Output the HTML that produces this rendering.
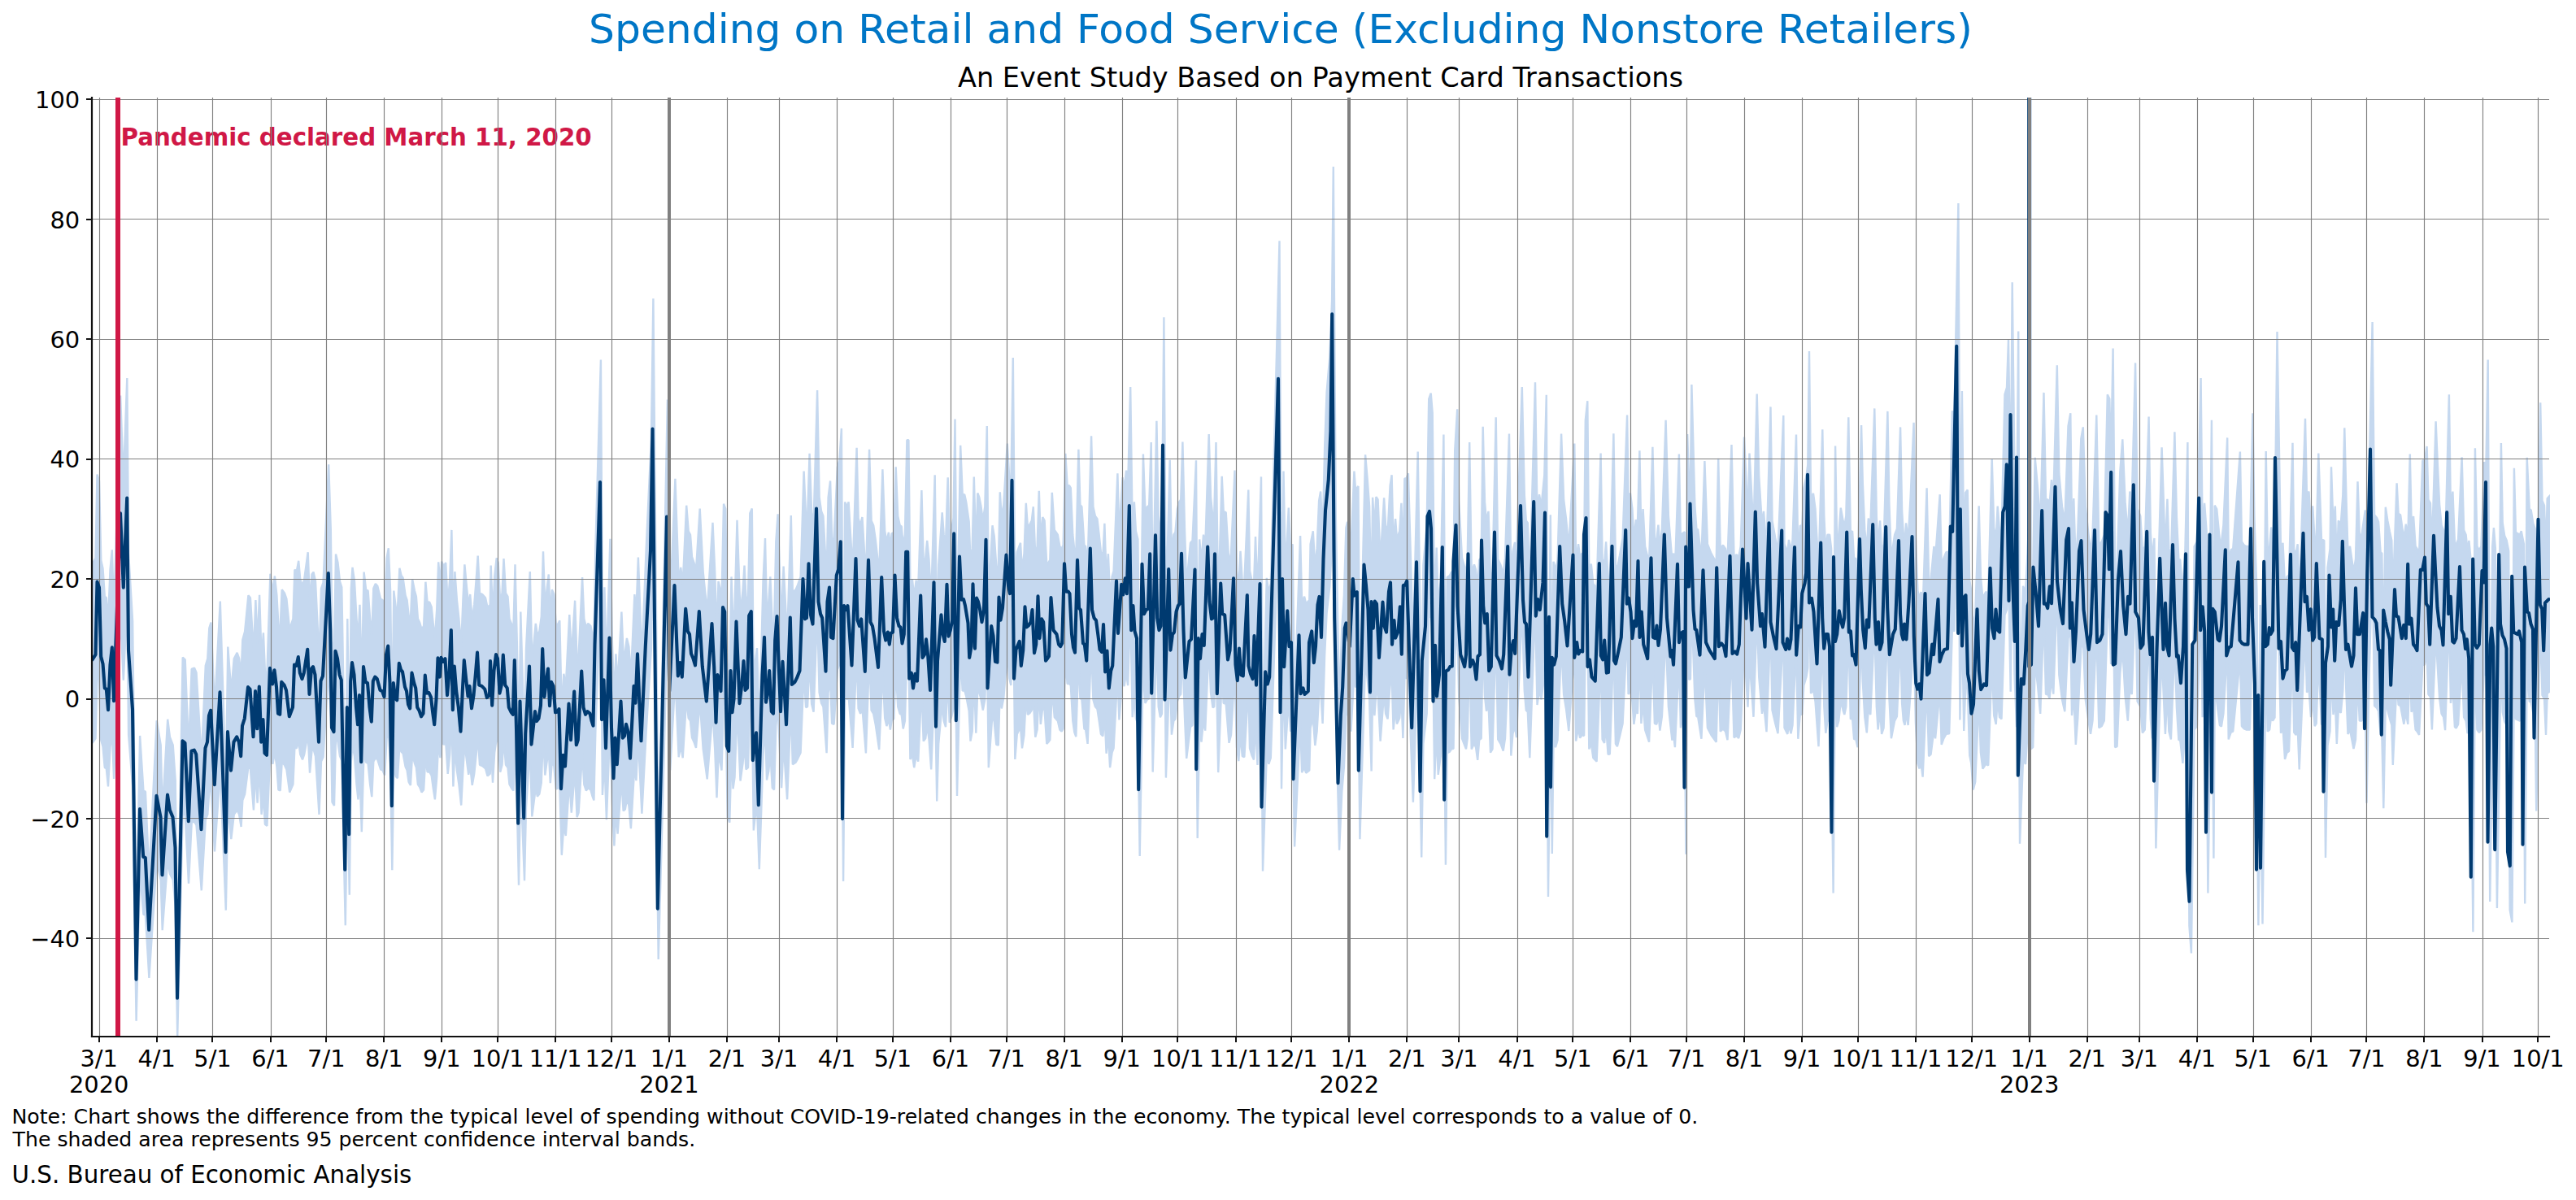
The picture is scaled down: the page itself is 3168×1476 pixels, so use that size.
<!DOCTYPE html>
<html lang="en"><head><meta charset="utf-8"><title>Spending on Retail and Food Service</title>
<style>html,body{margin:0;padding:0;background:#fff}svg{display:block}text{font-family:"DejaVu Sans","Liberation Sans",sans-serif;fill:#000}</style></head><body>
<svg width="3168" height="1476" viewBox="0 0 3168 1476">
<rect width="3168" height="1476" fill="#fff"/>
<defs><clipPath id="c"><rect x="113.0" y="120.0" width="3023.0" height="1155.0"/></clipPath></defs>
<g clip-path="url(#c)">
<polygon points="113.6,693.6 117.5,686.4 119.5,583.5 122.0,591.5 124.3,689.3 126.5,699.3 128.8,733.8 130.8,735.3 133.0,764.6 135.5,700.8 137.8,676.3 140.1,751.9 148.1,486.6 151.8,591.5 156.3,465.1 158.1,680.6 163.1,764.0 167.6,1145.8 172.1,904.9 176.4,972.4 178.9,973.9 183.4,1075.9 192.7,886.2 197.7,916.4 199.7,998.3 206.2,884.7 208.9,906.3 212.7,916.4 215.7,959.5 218.2,1172.2 224.7,808.6 227.7,811.4 232.0,922.1 235.7,822.9 239.0,821.5 241.5,827.3 247.8,933.6 252.8,818.6 255.3,810.0 257.3,772.6 259.5,765.5 264.0,870.4 270.8,739.6 277.8,965.8 280.3,795.6 284.3,850.3 287.8,810.0 291.6,802.8 294.1,810.0 296.6,830.1 298.3,787.0 301.1,776.9 305.4,732.4 307.9,735.3 311.9,802.8 314.4,738.1 316.6,791.3 319.1,731.8 321.6,810.0 323.9,778.4 325.9,825.8 328.4,828.7 332.4,705.7 335.4,728.1 337.9,708.5 340.4,732.4 342.4,769.8 344.7,771.2 346.7,725.2 349.9,729.5 352.4,736.7 356.2,774.1 360.4,761.1 362.4,700.8 364.9,702.2 367.2,689.8 369.2,712.3 372.0,720.9 374.2,712.3 378.7,679.2 381.0,742.5 383.5,706.5 385.5,703.6 388.0,715.1 392.5,810.0 395.0,723.8 397.5,716.6 404.2,571.4 406.8,651.9 408.5,789.9 411.0,795.6 413.0,681.5 415.5,692.1 418.0,715.1 420.3,722.3 424.8,990.5 427.3,761.1 429.8,940.8 431.8,723.8 433.5,697.9 436.0,715.1 438.5,761.1 440.5,785.6 442.5,743.9 444.8,838.2 447.6,703.6 450.1,725.2 452.6,726.6 455.1,761.1 457.3,781.3 459.3,723.8 461.8,718.0 464.3,720.9 468.1,736.7 470.6,738.1 473.1,746.2 475.6,686.4 477.8,674.3 480.1,726.6 482.3,900.6 484.3,726.6 486.9,748.2 488.9,751.1 491.4,698.8 493.6,708.0 495.6,710.8 498.6,732.4 500.6,738.1 502.6,756.8 504.9,762.6 507.1,712.3 509.9,726.6 511.9,733.8 513.9,761.1 516.1,765.5 518.6,774.1 521.1,769.8 523.4,715.7 525.6,741.0 528.1,740.4 530.7,746.8 532.7,766.9 534.9,785.6 537.2,749.6 539.2,691.3 541.4,718.0 543.2,690.7 545.7,696.5 548.2,692.1 550.7,743.9 553.2,712.3 555.4,651.9 557.4,764.6 559.4,703.1 561.9,738.1 564.4,761.1 567.2,795.1 569.4,738.1 571.4,694.4 573.7,719.5 576.2,745.3 578.2,731.0 580.7,762.6 583.2,743.9 585.7,712.3 587.7,683.5 590.0,729.5 593.2,731.0 597.0,735.3 599.5,747.3 602.7,743.9 603.7,695.6 606.0,758.3 608.2,709.4 610.7,686.4 612.7,692.1 615.2,741.0 617.5,729.5 619.5,687.0 622.0,729.5 624.5,733.8 626.5,761.1 629.5,768.3 631.5,771.2 633.5,694.4 635.8,789.9 638.0,925.0 640.3,752.5 645.0,917.8 647.0,798.5 651.8,703.1 654.3,813.5 658.8,766.9 660.8,780.7 663.3,776.9 665.8,758.3 668.0,678.3 670.3,746.2 672.8,722.3 674.8,706.5 676.8,758.8 678.8,725.2 681.3,731.0 683.8,768.3 686.3,767.5 688.3,763.4 690.8,876.1 693.3,828.7 695.8,844.5 700.3,756.0 702.8,807.1 707.1,738.7 709.6,814.3 711.6,807.1 716.1,710.0 718.3,761.1 720.8,771.2 723.3,766.9 726.4,769.8 728.4,779.8 730.4,787.0 732.4,672.0 738.9,442.6 740.9,778.4 743.4,722.3 745.9,818.6 750.4,662.8 752.9,789.9 755.4,861.2 757.4,804.3 759.6,841.6 764.4,752.5 766.6,804.3 768.9,801.4 770.9,785.0 773.4,795.6 775.9,833.0 780.4,731.0 782.4,754.8 784.9,685.5 787.2,749.6 789.4,808.6 794.7,674.9 800.9,539.8 803.4,367.3 809.7,1045.7 814.7,807.1 820.9,491.5 824.2,738.1 830.4,588.7 834.7,716.6 837.2,697.9 839.7,718.0 844.2,621.7 846.7,653.3 849.0,657.7 851.0,685.0 853.5,692.1 856.0,701.6 860.7,625.5 864.7,703.6 869.7,752.5 876.5,642.7 879.2,703.6 881.5,782.7 883.5,715.1 885.5,723.8 887.5,738.1 890.0,619.7 892.3,626.0 894.8,815.8 897.3,822.9 899.5,709.4 901.5,768.3 903.5,749.6 906.5,639.8 910.5,755.4 913.5,726.6 915.5,695.6 917.5,736.7 920.0,733.8 922.3,631.2 924.8,625.5 926.8,835.9 928.5,815.8 931.0,797.1 933.8,899.1 938.5,715.1 941.0,662.0 943.0,754.0 945.3,739.6 947.3,709.4 949.8,766.9 952.1,769.8 954.3,666.3 956.6,632.4 959.1,709.4 961.1,766.9 963.6,696.5 965.6,735.3 968.1,785.6 972.8,634.1 974.8,728.7 978.6,725.2 981.1,719.5 984.6,709.4 988.6,579.5 991.1,636.1 993.1,634.7 995.6,557.9 998.1,630.3 1000.6,643.3 1005.1,480.0 1007.6,611.7 1010.1,628.9 1012.4,634.7 1016.6,710.0 1018.6,611.7 1021.1,591.5 1023.1,662.0 1025.6,663.4 1029.9,574.3 1032.4,565.7 1034.9,526.9 1037.1,918.7 1039.1,617.4 1041.6,623.2 1043.6,617.4 1048.6,701.6 1053.6,550.7 1055.6,637.5 1058.1,646.2 1060.4,636.1 1064.9,710.3 1069.1,552.7 1071.6,640.4 1074.2,646.2 1076.7,663.4 1081.2,704.5 1085.4,577.2 1088.2,653.3 1090.4,666.3 1092.9,654.8 1094.9,672.0 1096.7,656.2 1099.2,654.8 1101.7,574.3 1104.2,634.7 1106.7,646.2 1108.7,647.6 1110.7,670.6 1112.9,657.7 1115.4,541.2 1117.4,541.2 1119.4,720.3 1121.9,712.3 1124.2,733.8 1126.7,713.7 1129.2,723.8 1133.4,603.0 1135.7,690.7 1138.2,686.4 1140.2,664.8 1142.5,687.8 1145.2,736.7 1149.7,584.3 1152.2,788.4 1154.2,695.0 1158.7,630.3 1160.7,657.7 1163.0,667.7 1165.7,587.2 1167.7,660.5 1170.0,651.9 1172.5,637.5 1174.5,515.4 1177.0,779.8 1181.2,547.8 1183.7,608.8 1186.2,608.2 1188.2,617.4 1191.7,641.8 1193.5,690.7 1195.7,674.9 1197.8,586.6 1200.3,677.8 1202.3,606.5 1204.3,611.7 1206.3,621.7 1208.8,640.4 1211.3,623.2 1213.8,524.0 1215.8,733.8 1220.5,646.2 1222.8,660.0 1225.3,696.5 1227.8,697.3 1229.8,605.3 1231.8,637.5 1234.3,620.3 1238.8,545.5 1241.3,588.7 1243.3,600.2 1245.8,440.0 1248.3,720.3 1250.8,679.2 1255.0,667.7 1257.0,702.2 1259.5,680.6 1261.8,618.8 1263.8,647.6 1266.3,645.3 1268.8,640.4 1270.8,623.2 1273.3,684.1 1275.6,672.0 1277.8,603.9 1279.8,663.4 1282.3,636.1 1284.6,640.4 1287.3,695.0 1289.3,692.1 1291.3,688.7 1293.8,605.9 1296.8,651.9 1298.8,654.8 1300.8,657.7 1303.3,672.0 1305.6,674.9 1307.6,670.6 1310.3,557.9 1312.6,597.3 1315.1,597.3 1316.8,600.2 1319.3,657.7 1321.3,676.3 1323.3,683.5 1326.4,552.7 1328.4,620.9 1330.4,623.2 1333.4,670.6 1335.1,672.0 1337.6,695.0 1342.1,536.3 1344.4,623.2 1346.9,634.7 1349.4,638.1 1351.9,660.0 1353.9,679.2 1356.4,682.7 1358.4,643.9 1360.6,710.8 1362.9,681.2 1365.1,733.8 1367.6,709.4 1369.6,702.2 1374.4,582.3 1376.4,656.2 1380.6,587.2 1382.6,601.6 1385.1,578.6 1387.1,600.2 1390.2,476.0 1392.7,651.9 1394.9,617.4 1396.9,653.3 1399.4,663.4 1401.7,877.6 1405.9,558.5 1408.4,628.9 1410.9,623.2 1413.2,621.7 1415.7,544.1 1417.7,741.0 1422.4,517.7 1424.7,634.7 1426.9,651.9 1428.9,646.2 1431.4,390.3 1433.9,750.2 1438.7,565.7 1440.9,680.1 1443.4,657.7 1445.4,654.8 1447.9,626.0 1450.2,617.4 1452.2,614.5 1454.4,543.5 1457.0,651.9 1459.2,718.9 1464.0,667.7 1466.5,664.8 1471.0,566.2 1472.7,848.8 1475.2,663.4 1477.5,692.1 1480.0,657.7 1482.2,673.5 1486.7,534.0 1489.0,611.7 1491.5,636.1 1493.2,634.7 1495.5,544.1 1498.2,741.6 1502.7,585.8 1504.7,628.9 1507.7,630.3 1511.5,693.6 1514.0,680.6 1518.5,578.6 1521.0,700.8 1523.3,723.2 1525.5,677.8 1527.8,715.1 1530.3,716.6 1535.3,602.5 1537.0,702.2 1539.5,713.7 1542.0,720.9 1544.0,660.0 1546.5,729.5 1551.0,586.4 1553.0,902.0 1557.8,710.8 1560.3,728.1 1562.8,718.0 1573.5,296.3 1576.0,768.3 1578.5,579.5 1580.8,703.6 1584.8,624.6 1587.1,674.9 1589.6,669.2 1592.1,862.3 1599.1,659.1 1601.1,741.6 1604.1,733.8 1606.1,742.5 1610.3,738.1 1611.6,669.2 1614.8,653.3 1617.3,697.9 1619.6,674.9 1622.1,616.0 1624.1,604.5 1626.6,662.0 1629.1,551.3 1631.6,482.3 1635.3,439.2 1638.1,370.2 1639.8,204.9 1642.8,634.7 1647.1,868.1 1650.3,772.6 1652.9,732.4 1655.4,649.0 1657.1,641.8 1661.4,674.9 1665.4,579.5 1667.1,603.0 1670.4,597.9 1672.4,850.3 1679.1,559.3 1681.6,588.7 1684.1,623.2 1686.6,739.6 1688.1,611.7 1690.4,649.0 1692.4,611.1 1694.6,614.5 1697.6,690.7 1702.1,612.2 1704.1,646.2 1706.6,654.8 1709.6,597.3 1711.6,584.3 1713.6,672.0 1716.1,638.1 1717.9,662.8 1721.2,653.3 1723.4,618.8 1725.4,685.8 1727.4,588.7 1729.7,588.1 1731.9,582.3 1737.9,789.9 1743.7,555.6 1748.2,879.6 1750.4,695.0 1754.7,646.2 1757.2,490.9 1759.7,483.7 1761.7,508.2 1764.2,752.5 1766.7,673.5 1768.7,745.3 1771.7,715.1 1775.4,534.6 1777.9,891.9 1779.7,710.0 1782.9,708.0 1785.0,703.6 1787.5,703.1 1789.2,554.2 1792.2,503.3 1794.2,617.4 1798.0,686.4 1800.5,695.0 1803.0,703.6 1804.7,686.4 1807.2,544.1 1809.7,703.6 1813.0,694.4 1815.0,700.8 1817.2,721.5 1819.2,688.7 1821.7,686.4 1823.7,524.8 1826.0,617.4 1828.0,641.8 1830.5,628.9 1833.0,709.4 1835.5,703.6 1839.7,513.3 1842.2,687.8 1845.5,695.0 1848.7,706.5 1851.0,686.4 1856.0,533.5 1858.3,714.6 1860.5,678.3 1863.0,666.9 1865.0,685.0 1871.8,476.0 1874.8,608.8 1876.8,640.4 1878.8,643.3 1881.3,718.0 1888.0,470.2 1890.5,631.8 1893.0,608.2 1895.5,623.2 1899.3,584.3 1901.8,485.8 1904.0,943.7 1906.8,633.2 1908.8,873.8 1910.5,690.7 1913.0,700.8 1915.5,689.3 1920.1,533.5 1923.1,614.5 1926.1,639.0 1929.3,674.0 1936.3,545.5 1938.1,690.7 1941.1,669.2 1943.1,685.5 1945.6,680.6 1948.1,682.1 1949.8,516.8 1952.3,493.2 1954.3,703.6 1956.8,693.6 1959.3,718.0 1963.6,723.8 1968.6,557.6 1970.6,687.8 1973.1,693.6 1975.1,666.3 1977.6,712.3 1979.8,711.7 1984.4,533.2 1986.9,695.0 1988.9,699.3 1991.9,683.5 1995.6,662.0 2001.1,510.5 2002.6,614.5 2004.9,606.5 2007.4,626.0 2009.4,663.4 2011.9,639.0 2013.9,646.2 2016.4,554.2 2018.4,662.0 2020.6,626.0 2023.1,672.0 2028.1,692.1 2032.4,549.9 2034.9,662.0 2037.4,663.4 2039.4,645.6 2041.4,673.5 2043.9,650.5 2048.6,516.8 2051.9,634.7 2056.4,689.3 2058.2,680.6 2059.9,700.8 2064.9,558.5 2066.9,669.2 2068.9,656.2 2071.9,654.2 2073.4,874.7 2075.2,534.0 2076.9,590.1 2078.9,590.1 2080.4,473.1 2084.4,623.2 2086.4,650.5 2088.2,651.3 2092.4,687.0 2096.4,567.1 2099.9,669.2 2104.4,680.6 2110.7,692.1 2113.2,563.7 2115.7,674.9 2119.0,670.6 2122.0,674.9 2124.5,688.7 2129.5,547.0 2132.5,685.0 2135.7,682.1 2138.2,685.8 2140.7,672.0 2145.0,537.5 2149.5,635.2 2151.5,557.6 2156.5,651.3 2160.7,484.6 2163.2,585.8 2167.0,646.2 2169.0,628.9 2172.5,675.5 2177.5,500.4 2179.5,640.4 2183.3,662.0 2186.5,678.3 2193.3,511.0 2194.5,669.2 2198.3,679.2 2200.0,664.0 2202.5,678.3 2204.5,664.8 2209.0,534.6 2211.3,687.0 2213.8,646.2 2216.3,647.6 2218.3,600.2 2221.5,585.8 2223.3,571.4 2225.0,432.0 2227.0,613.1 2230.0,606.8 2232.5,626.0 2236.5,699.3 2241.3,528.3 2243.3,634.7 2245.3,677.8 2247.5,657.7 2250.1,657.7 2252.1,674.9 2254.6,937.9 2257.1,548.4 2259.1,667.7 2261.3,657.7 2263.8,624.6 2266.6,640.4 2268.3,647.6 2270.3,634.7 2273.3,513.3 2275.8,654.8 2278.1,653.3 2280.1,687.8 2282.1,686.4 2284.6,700.8 2289.1,523.1 2290.8,594.4 2293.3,651.9 2295.8,677.2 2297.8,637.5 2300.3,647.6 2305.3,502.4 2307.8,634.7 2309.6,672.0 2312.1,640.4 2314.1,679.2 2316.6,669.2 2321.4,505.9 2323.4,620.3 2325.9,686.4 2330.1,657.7 2332.9,650.5 2337.1,525.4 2339.1,628.9 2340.9,657.7 2342.6,664.8 2344.1,643.3 2346.6,664.8 2349.6,611.7 2353.6,519.7 2355.9,660.5 2358.4,726.6 2360.4,735.3 2362.6,728.1 2364.6,749.1 2369.6,600.2 2372.1,715.1 2374.6,712.3 2378.4,672.0 2380.1,686.4 2382.2,657.7 2385.7,608.2 2387.7,696.5 2390.2,687.0 2393.4,679.2 2397.2,678.3 2400.9,505.3 2403.4,512.5 2408.4,250.0 2410.4,656.2 2412.9,480.9 2415.2,674.0 2417.2,605.9 2419.7,602.5 2422.2,713.7 2424.2,726.6 2426.7,769.8 2429.2,756.8 2433.7,622.3 2435.9,709.4 2438.4,735.8 2442.2,728.1 2445.2,730.1 2449.7,564.2 2452.2,649.0 2454.7,663.4 2456.7,622.6 2459.0,651.9 2461.5,654.8 2465.5,485.2 2468.0,476.6 2470.0,417.6 2472.7,610.2 2474.7,347.2 2477.5,582.9 2480.0,667.7 2482.2,407.6 2484.0,857.4 2488.0,720.9 2491.0,728.1 2493.5,680.6 2496.0,617.4 2497.5,611.7 2497.5,-2975.9 2497.6,703.6 2500.2,700.8 2502.7,562.8 2506.0,600.2 2509.2,646.2 2513.5,482.9 2516.0,614.5 2518.5,614.5 2520.5,620.9 2523.0,590.1 2525.3,614.0 2529.8,449.2 2532.3,582.9 2536.0,623.2 2539.3,642.7 2543.5,524.0 2546.3,508.2 2548.0,649.0 2550.3,613.1 2552.8,696.5 2555.3,653.3 2559.3,539.8 2561.8,525.4 2564.8,623.2 2568.5,657.7 2571.0,679.2 2573.5,657.7 2578.3,510.5 2581.3,669.2 2584.8,666.3 2587.8,657.7 2591.8,485.2 2594.3,490.4 2596.1,565.7 2598.6,428.5 2601.1,700.8 2603.6,699.3 2607.3,580.0 2610.3,540.4 2613.6,617.4 2616.8,657.7 2619.3,604.5 2621.8,614.5 2626.1,446.4 2628.6,626.0 2632.3,634.7 2634.8,677.2 2637.8,672.0 2642.6,512.5 2644.8,654.8 2646.8,686.4 2649.4,662.0 2651.4,865.2 2654.9,680.6 2658.6,550.4 2662.9,679.2 2665.4,613.7 2667.4,674.9 2669.9,687.8 2674.4,531.2 2676.9,636.1 2679.4,689.3 2681.1,687.8 2684.4,726.6 2687.4,674.9 2690.4,544.1 2692.4,991.1 2694.9,1035.7 2698.6,672.0 2701.9,666.3 2706.6,465.1 2708.6,651.9 2711.1,618.8 2713.6,653.3 2715.4,937.9 2719.9,516.8 2722.4,881.3 2723.7,621.7 2726.2,626.0 2729.9,664.8 2731.9,666.9 2734.4,646.2 2739.2,538.4 2740.7,687.8 2743.7,676.3 2746.2,674.9 2750.4,617.4 2754.9,555.6 2756.9,666.3 2759.9,670.6 2762.4,672.0 2766.9,672.0 2770.4,508.2 2772.4,634.7 2775.4,726.6 2777.4,990.5 2779.7,743.9 2782.5,988.2 2786.7,555.0 2788.7,674.9 2791.2,672.0 2793.2,648.5 2795.0,657.7 2797.5,652.5 2800.5,408.1 2805.0,677.8 2807.5,667.7 2810.0,720.3 2812.5,709.4 2815.0,707.1 2819.5,544.7 2821.2,676.3 2823.7,680.6 2825.7,669.2 2827.7,736.7 2830.5,651.9 2835.0,514.8 2837.0,611.7 2839.5,604.5 2842.0,651.9 2844.2,622.3 2846.7,666.3 2848.7,662.0 2851.3,557.6 2855.0,663.4 2858.3,664.8 2860.0,880.4 2862.5,697.9 2865.5,674.9 2867.0,574.3 2869.5,647.6 2871.8,622.6 2873.8,695.0 2875.8,640.4 2878.8,644.7 2881.3,608.8 2883.3,526.3 2885.5,614.5 2887.5,679.2 2890.0,672.0 2892.5,689.3 2894.5,703.1 2897.0,687.8 2899.5,592.4 2901.8,657.7 2904.5,657.7 2908.8,627.5 2910.5,791.3 2913.8,574.3 2917.6,396.1 2920.1,633.2 2923.1,637.0 2925.1,641.8 2927.6,679.2 2929.3,680.6 2931.3,799.9 2933.8,623.7 2936.3,640.4 2938.8,653.3 2941.3,664.8 2942.8,729.5 2947.6,594.4 2949.6,631.8 2952.1,633.2 2956.3,663.4 2958.8,644.7 2961.3,663.4 2963.8,558.5 2965.6,643.3 2968.1,635.2 2970.6,672.0 2972.6,674.9 2975.1,680.6 2979.3,566.5 2981.8,566.5 2984.6,549.0 2986.4,614.5 2988.9,618.8 2990.9,672.0 2995.6,518.2 2997.6,565.7 3000.1,620.3 3002.6,646.2 3005.1,651.9 3007.1,672.9 3011.9,485.2 3013.9,628.9 3016.4,604.5 3018.9,667.7 3020.6,669.7 3023.1,663.4 3027.6,562.2 3030.1,651.9 3032.6,657.7 3034.6,678.3 3036.4,664.8 3038.9,692.1 3041.4,1001.2 3043.9,551.3 3046.4,672.0 3048.9,676.9 3051.4,672.0 3055.2,568.0 3057.2,584.3 3059.7,442.6 3062.2,951.7 3065.2,672.0 3066.9,649.0 3068.9,674.9 3070.9,962.4 3075.9,545.0 3077.7,643.3 3080.2,659.1 3082.7,664.8 3085.2,677.8 3086.7,965.2 3089.4,985.4 3091.9,575.7 3093.9,654.8 3096.4,656.2 3098.9,657.7 3100.7,653.3 3103.9,669.2 3105.2,955.2 3107.7,562.8 3110.7,626.0 3112.7,627.5 3115.2,643.3 3117.7,650.5 3119.2,804.3 3124.2,495.2 3126.5,616.0 3129.0,621.7 3131.0,680.6 3132.7,613.1 3137.3,608.2 3137.3,849.2 3132.7,852.9 3131.0,904.0 3129.0,859.4 3126.5,855.1 3124.2,763.8 3119.2,997.5 3117.7,881.2 3115.2,875.7 3112.7,863.8 3110.7,862.7 3107.7,814.9 3105.2,1111.6 3103.9,895.3 3100.7,883.3 3098.9,886.6 3096.4,885.5 3093.9,884.4 3091.9,824.6 3089.4,1134.4 3086.7,1119.2 3085.2,901.8 3082.7,892.0 3080.2,887.7 3077.7,875.7 3075.9,801.4 3070.9,1117.0 3068.9,899.6 3066.9,880.1 3065.2,897.5 3062.2,1109.0 3059.7,724.0 3057.2,831.2 3055.2,818.8 3051.4,897.5 3048.9,901.2 3046.4,897.5 3043.9,806.2 3041.4,1146.3 3038.9,912.7 3036.4,892.0 3034.6,902.2 3032.6,886.6 3030.1,882.2 3027.6,814.4 3023.1,890.9 3020.6,895.7 3018.9,894.2 3016.4,846.4 3013.9,864.9 3011.9,756.2 3007.1,898.1 3005.1,882.2 3002.6,877.9 3000.1,858.3 2997.6,817.0 2995.6,781.2 2990.9,897.5 2988.9,857.3 2986.4,854.0 2984.6,804.4 2981.8,817.7 2979.3,817.7 2975.1,904.0 2972.6,899.6 2970.6,897.5 2968.1,869.6 2965.6,875.7 2963.8,811.6 2961.3,890.9 2958.8,876.8 2956.3,890.9 2952.1,868.1 2949.6,867.0 2947.6,838.8 2942.8,940.9 2941.3,892.0 2938.8,883.3 2936.3,873.6 2933.8,860.9 2931.3,994.2 2929.3,904.0 2927.6,902.9 2925.1,874.6 2923.1,870.9 2920.1,868.1 2917.6,688.8 2913.8,823.6 2910.5,987.7 2908.8,863.8 2904.5,886.6 2901.8,886.6 2899.5,837.3 2897.0,909.4 2894.5,920.9 2892.5,910.5 2890.0,897.5 2887.5,902.9 2885.5,854.0 2883.3,787.3 2881.3,849.6 2878.8,876.8 2875.8,873.6 2873.8,914.9 2871.8,860.1 2869.5,879.0 2867.0,823.6 2865.5,899.6 2862.5,917.0 2860.0,1055.1 2858.3,892.0 2855.0,890.9 2851.3,811.0 2848.7,889.9 2846.7,893.1 2844.2,859.9 2842.0,882.2 2839.5,846.4 2837.0,851.8 2835.0,778.6 2830.5,882.2 2827.7,946.4 2825.7,895.3 2823.7,904.0 2821.2,900.7 2819.5,801.2 2815.0,924.0 2812.5,925.7 2810.0,934.0 2807.5,894.2 2805.0,901.8 2800.5,697.9 2797.5,882.7 2795.0,886.6 2793.2,879.6 2791.2,897.5 2788.7,899.6 2786.7,809.0 2782.5,1136.6 2779.7,951.8 2777.4,1138.3 2775.4,938.8 2772.4,869.2 2770.4,773.6 2766.9,897.5 2762.4,897.5 2759.9,896.4 2756.9,893.1 2754.9,809.4 2750.4,856.2 2746.2,899.6 2743.7,900.7 2740.7,909.4 2739.2,796.4 2734.4,877.9 2731.9,893.6 2729.9,892.0 2726.2,862.7 2723.7,859.4 2722.4,1055.7 2719.9,780.1 2715.4,1098.5 2713.6,883.3 2711.1,857.3 2708.6,882.2 2706.6,741.0 2701.9,893.1 2698.6,897.5 2694.9,1172.4 2692.4,1138.7 2690.4,800.7 2687.4,899.6 2684.4,938.8 2681.1,909.4 2679.4,910.5 2676.9,870.3 2674.4,791.0 2669.9,909.4 2667.4,899.6 2665.4,853.3 2662.9,902.9 2658.6,805.5 2654.9,904.0 2651.4,1043.5 2649.4,889.9 2646.8,908.3 2644.8,884.4 2642.6,776.8 2637.8,897.5 2634.8,901.4 2632.3,869.2 2628.6,862.7 2626.1,726.8 2621.8,854.0 2619.3,846.4 2616.8,886.6 2613.6,856.2 2610.3,797.9 2607.3,827.9 2603.6,918.1 2601.1,919.2 2598.6,713.4 2596.1,817.0 2594.3,760.1 2591.8,756.2 2587.8,886.6 2584.8,893.1 2581.3,895.3 2578.3,775.3 2573.5,886.6 2571.0,902.9 2568.5,886.6 2564.8,860.5 2561.8,786.6 2559.3,797.5 2555.3,883.3 2552.8,915.9 2550.3,852.9 2548.0,880.1 2546.3,773.6 2543.5,785.5 2539.3,875.3 2536.0,860.5 2532.3,830.1 2529.8,729.0 2525.3,853.6 2523.0,835.5 2520.5,858.8 2518.5,854.0 2516.0,854.0 2513.5,754.4 2509.2,877.9 2506.0,843.1 2502.7,814.9 2500.2,919.2 2497.6,921.4 2497.5,-1860.9 2497.5,851.8 2496.0,856.2 2493.5,904.0 2491.0,939.8 2488.0,934.4 2484.0,1037.7 2482.2,697.5 2480.0,894.2 2477.5,830.1 2474.7,651.8 2472.7,850.7 2470.0,705.1 2468.0,749.7 2465.5,756.2 2461.5,884.4 2459.0,882.2 2456.7,860.1 2454.7,890.9 2452.2,880.1 2449.7,816.0 2445.2,941.4 2442.2,939.8 2438.4,945.7 2435.9,925.7 2433.7,859.9 2429.2,961.6 2426.7,971.4 2424.2,938.8 2422.2,929.0 2419.7,844.9 2417.2,847.5 2415.2,899.0 2412.9,752.9 2410.4,885.5 2408.4,578.4 2403.4,776.8 2400.9,771.4 2397.2,902.2 2393.4,902.9 2390.2,908.8 2387.7,915.9 2385.7,849.2 2382.2,886.6 2380.1,908.3 2378.4,897.5 2374.6,927.9 2372.1,930.1 2369.6,843.1 2364.6,955.7 2362.6,939.8 2360.4,945.3 2358.4,938.8 2355.9,888.8 2353.6,782.3 2349.6,851.8 2346.6,892.0 2344.1,875.7 2342.6,892.0 2340.9,886.6 2339.1,864.9 2337.1,786.6 2332.9,881.2 2330.1,886.6 2325.9,908.3 2323.4,858.3 2321.4,771.8 2316.6,895.3 2314.1,902.9 2312.1,873.6 2309.6,897.5 2307.8,869.2 2305.3,769.2 2300.3,879.0 2297.8,871.4 2295.8,901.4 2293.3,882.2 2290.8,838.8 2289.1,784.9 2284.6,919.2 2282.1,908.3 2280.1,909.4 2278.1,883.3 2275.8,884.4 2273.3,777.5 2270.3,869.2 2268.3,879.0 2266.6,873.6 2263.8,861.6 2261.3,886.6 2259.1,894.2 2257.1,804.0 2254.6,1098.5 2252.1,899.6 2250.1,886.6 2247.5,886.6 2245.3,901.8 2243.3,869.2 2241.3,788.8 2236.5,918.1 2232.5,862.7 2230.0,848.1 2227.0,852.9 2225.0,716.0 2223.3,821.4 2221.5,832.3 2218.3,843.1 2216.3,879.0 2213.8,877.9 2211.3,908.8 2209.0,793.6 2204.5,892.0 2202.5,902.2 2200.0,891.4 2198.3,902.9 2194.5,895.3 2193.3,775.7 2186.5,902.2 2183.3,889.9 2179.5,873.6 2177.5,767.7 2172.5,900.1 2169.0,864.9 2167.0,877.9 2163.2,832.3 2160.7,755.7 2156.5,881.8 2151.5,811.0 2149.5,869.6 2145.0,795.7 2140.7,897.5 2138.2,907.9 2135.7,905.1 2132.5,907.2 2129.5,802.9 2124.5,910.1 2122.0,899.6 2119.0,896.4 2115.7,899.6 2113.2,815.5 2110.7,912.7 2104.4,904.0 2099.9,895.3 2096.4,818.1 2092.4,908.8 2088.2,881.8 2086.4,881.2 2084.4,860.5 2080.4,747.1 2078.9,835.5 2076.9,835.5 2075.2,793.1 2073.4,1050.7 2071.9,884.0 2068.9,885.5 2066.9,895.3 2064.9,811.6 2059.9,919.2 2058.2,904.0 2056.4,910.5 2051.9,869.2 2048.6,780.1 2043.9,881.2 2041.4,898.6 2039.4,877.5 2037.4,890.9 2034.9,889.9 2032.4,805.1 2028.1,912.7 2023.1,897.5 2020.6,862.7 2018.4,889.9 2016.4,808.3 2013.9,877.9 2011.9,872.5 2009.4,890.9 2007.4,862.7 2004.9,847.9 2002.6,854.0 2001.1,775.3 1995.6,889.9 1991.9,906.2 1988.9,918.1 1986.9,914.9 1984.4,792.5 1979.8,927.5 1977.6,927.9 1975.1,893.1 1973.1,913.8 1970.6,909.4 1968.6,811.0 1963.6,936.6 1959.3,932.2 1956.8,913.8 1954.3,921.4 1952.3,762.3 1949.8,780.1 1948.1,905.1 1945.6,904.0 1943.1,907.7 1941.1,895.3 1938.1,911.6 1936.3,801.8 1929.3,899.0 1926.1,872.5 1923.1,854.0 1920.1,792.7 1915.5,910.5 1913.0,919.2 1910.5,911.6 1908.8,1050.1 1906.8,868.1 1904.0,1102.9 1901.8,756.6 1899.3,831.2 1895.5,860.5 1893.0,849.2 1890.5,867.0 1888.0,744.9 1881.3,932.2 1878.8,875.7 1876.8,873.6 1874.8,849.6 1871.8,749.2 1865.0,907.2 1863.0,893.6 1860.5,902.2 1858.3,929.6 1856.0,792.7 1851.0,908.3 1848.7,923.5 1845.5,914.9 1842.2,909.4 1839.7,777.5 1835.5,921.4 1833.0,925.7 1830.5,864.9 1828.0,874.6 1826.0,856.2 1823.7,786.2 1821.7,908.3 1819.2,910.1 1817.2,934.9 1815.0,919.2 1813.0,914.4 1809.7,921.4 1807.2,800.7 1804.7,908.3 1803.0,921.4 1800.5,914.9 1798.0,908.3 1794.2,856.2 1792.2,769.9 1789.2,808.3 1787.5,920.9 1785.0,921.4 1782.9,924.6 1779.7,926.2 1777.9,1063.7 1775.4,793.6 1771.7,930.1 1768.7,952.9 1766.7,898.6 1764.2,958.3 1761.7,773.6 1759.7,755.1 1757.2,760.5 1754.7,877.9 1750.4,914.9 1748.2,1054.4 1743.7,809.4 1737.9,986.6 1731.9,829.6 1729.7,834.0 1727.4,834.4 1725.4,907.9 1723.4,857.3 1721.2,883.3 1717.9,890.5 1716.1,871.8 1713.6,897.5 1711.6,831.2 1709.6,841.0 1706.6,884.4 1704.1,877.9 1702.1,852.3 1697.6,911.6 1694.6,854.0 1692.4,851.4 1690.4,880.1 1688.1,851.8 1686.6,948.5 1684.1,860.5 1681.6,834.4 1679.1,812.3 1672.4,1032.2 1670.4,841.4 1667.1,845.3 1665.4,827.5 1661.4,899.6 1657.1,874.6 1655.4,880.1 1652.9,943.1 1650.3,973.5 1647.1,1045.7 1642.8,869.2 1639.8,544.3 1638.1,669.2 1635.3,721.4 1631.6,754.0 1629.1,806.2 1626.6,889.9 1624.1,846.4 1622.1,855.1 1619.6,899.6 1617.3,917.0 1614.8,883.3 1611.6,895.3 1610.3,947.5 1606.1,950.7 1604.1,944.2 1601.1,950.1 1599.1,887.7 1592.1,1041.4 1589.6,895.3 1587.1,899.6 1584.8,861.6 1580.8,921.4 1578.5,827.5 1576.0,970.3 1573.5,613.4 1562.8,932.2 1560.3,939.8 1557.8,926.8 1553.0,1071.4 1551.0,832.7 1546.5,940.9 1544.0,888.3 1542.0,934.4 1539.5,929.0 1537.0,920.3 1535.3,844.9 1530.3,931.2 1527.8,930.1 1525.5,901.8 1523.3,936.2 1521.0,919.2 1518.5,826.8 1514.0,904.0 1511.5,913.8 1507.7,865.9 1504.7,864.9 1502.7,832.3 1498.2,950.1 1495.5,800.7 1493.2,869.2 1491.5,870.3 1489.0,851.8 1486.7,793.1 1482.2,898.6 1480.0,886.6 1477.5,912.7 1475.2,890.9 1472.7,1031.1 1471.0,817.5 1466.5,892.0 1464.0,894.2 1459.2,932.9 1457.0,882.2 1454.4,800.3 1452.2,854.0 1450.2,856.2 1447.9,862.7 1445.4,884.4 1443.4,886.6 1440.9,903.6 1438.7,817.0 1433.9,956.6 1431.4,684.4 1428.9,877.9 1426.9,882.2 1424.7,869.2 1422.4,780.7 1417.7,949.6 1415.7,800.7 1413.2,859.4 1410.9,860.5 1408.4,864.9 1405.9,811.6 1401.7,1052.9 1399.4,890.9 1396.9,883.3 1394.9,856.2 1392.7,882.2 1390.2,749.2 1387.1,843.1 1385.1,826.8 1382.6,844.2 1380.6,833.3 1376.4,885.5 1374.4,829.6 1369.6,920.3 1367.6,925.7 1365.1,944.2 1362.9,904.4 1360.6,926.8 1358.4,876.2 1356.4,905.5 1353.9,902.9 1351.9,888.3 1349.4,871.8 1346.9,869.2 1344.4,860.5 1342.1,794.9 1337.6,914.9 1335.1,897.5 1333.4,896.4 1330.4,860.5 1328.4,858.8 1326.4,807.3 1323.3,906.2 1321.3,900.7 1319.3,886.6 1316.8,843.1 1315.1,841.0 1312.6,841.0 1310.3,811.2 1307.6,896.4 1305.6,899.6 1303.3,897.5 1300.8,886.6 1298.8,884.4 1296.8,882.2 1293.8,847.5 1291.3,910.1 1289.3,912.7 1287.3,914.9 1284.6,873.6 1282.3,870.3 1279.8,890.9 1277.8,845.9 1275.6,897.5 1273.3,906.6 1270.8,860.5 1268.8,873.6 1266.3,877.2 1263.8,879.0 1261.8,857.3 1259.5,904.0 1257.0,920.3 1255.0,894.2 1250.8,902.9 1248.3,934.0 1245.8,722.1 1243.3,843.1 1241.3,834.4 1238.8,801.8 1234.3,858.3 1231.8,871.4 1229.8,847.0 1227.8,916.6 1225.3,915.9 1222.8,888.3 1220.5,877.9 1215.8,944.2 1213.8,785.5 1211.3,860.5 1208.8,873.6 1206.3,859.4 1204.3,851.8 1202.3,847.9 1200.3,901.8 1197.8,832.9 1195.7,899.6 1193.5,911.6 1191.7,874.6 1188.2,856.2 1186.2,849.2 1183.7,849.6 1181.2,803.6 1177.0,979.0 1174.5,779.0 1172.5,871.4 1170.0,882.2 1167.7,888.8 1165.7,833.3 1163.0,894.2 1160.7,886.6 1158.7,865.9 1154.2,914.9 1152.2,985.5 1149.7,831.2 1145.2,946.4 1142.5,909.4 1140.2,892.0 1138.2,908.3 1135.7,911.6 1133.4,845.3 1129.2,936.6 1126.7,929.0 1124.2,944.2 1121.9,927.9 1119.4,934.0 1117.4,798.6 1115.4,798.6 1112.9,886.6 1110.7,896.4 1108.7,879.0 1106.7,877.9 1104.2,869.2 1101.7,823.6 1099.2,884.4 1096.7,885.5 1094.9,897.5 1092.9,884.4 1090.4,893.1 1088.2,883.3 1085.4,825.7 1081.2,922.0 1076.7,890.9 1074.2,877.9 1071.6,873.6 1069.1,807.3 1064.9,926.4 1060.4,870.3 1058.1,877.9 1055.6,871.4 1053.6,805.7 1048.6,919.9 1043.6,856.2 1041.6,860.5 1039.1,856.2 1037.1,1084.0 1034.9,787.7 1032.4,817.0 1029.9,823.6 1025.6,890.9 1023.1,889.9 1021.1,836.6 1018.6,851.8 1016.6,926.2 1012.4,869.2 1010.1,864.9 1007.6,851.8 1005.1,752.3 1000.6,875.7 998.1,865.9 995.6,811.2 993.1,869.2 991.1,870.3 988.6,827.5 984.6,925.7 981.1,933.3 978.6,937.7 974.8,940.3 972.8,868.8 968.1,983.3 965.6,945.3 963.6,915.9 961.1,969.2 959.1,925.7 956.6,867.5 954.3,893.1 952.1,971.4 949.8,969.2 947.3,925.7 945.3,948.5 943.0,959.4 941.0,889.9 938.5,930.1 933.8,1069.2 931.0,992.0 928.5,1006.1 926.8,1021.4 924.8,862.3 922.3,866.6 920.0,944.2 917.5,946.4 915.5,915.3 913.5,938.8 910.5,960.5 906.5,873.1 903.5,956.2 901.5,970.3 899.5,925.7 897.3,1011.6 894.8,1006.1 892.3,862.7 890.0,857.9 887.5,947.5 885.5,936.6 883.5,930.1 881.5,981.1 879.2,921.4 876.5,875.3 869.7,958.3 864.7,921.4 860.7,862.3 856.0,919.9 853.5,912.7 851.0,907.2 849.0,886.6 846.7,883.3 844.2,859.4 839.7,932.2 837.2,917.0 834.7,931.2 830.4,834.4 824.2,947.5 820.9,761.0 814.7,999.6 809.7,1180.0 803.4,667.1 800.9,797.5 794.7,899.6 789.4,1000.7 787.2,956.2 784.9,907.7 782.4,960.1 780.4,942.0 775.9,1019.2 773.4,990.9 770.9,982.9 768.9,995.3 766.6,997.5 764.4,958.3 759.6,1025.7 757.4,997.5 755.4,1040.5 752.9,986.6 750.4,890.5 745.9,1008.3 743.4,935.5 740.9,977.9 738.9,724.0 732.4,897.5 730.4,984.4 728.4,979.0 726.4,971.4 723.3,969.2 720.8,972.5 718.3,964.8 716.1,926.2 711.6,999.6 709.6,1005.1 707.1,947.9 702.8,999.6 700.3,960.9 695.8,1027.9 693.3,1015.9 690.8,1051.8 688.3,966.6 686.3,969.6 683.8,970.3 681.3,942.0 678.8,937.7 676.8,963.1 674.8,923.5 672.8,935.5 670.3,953.5 668.0,902.2 665.8,962.7 663.3,976.8 660.8,979.6 658.8,969.2 654.3,1004.4 651.8,920.9 647.0,993.1 645.0,1083.3 640.3,958.3 638.0,1088.7 635.8,986.6 633.5,914.4 631.5,972.5 629.5,970.3 626.5,964.8 624.5,944.2 622.0,940.9 619.5,908.8 617.5,940.9 615.2,949.6 612.7,912.7 610.7,908.3 608.2,925.7 606.0,962.7 603.7,915.3 602.7,951.8 599.5,954.4 597.0,945.3 593.2,942.0 590.0,940.9 587.7,906.2 585.7,927.9 583.2,951.8 580.7,965.9 578.2,942.0 576.2,952.9 573.7,933.3 571.4,914.4 569.4,947.5 567.2,990.5 564.4,964.8 561.9,947.5 559.4,920.9 557.4,967.5 555.4,882.2 553.2,927.9 550.7,951.8 548.2,912.7 545.7,915.9 543.2,911.6 541.4,932.2 539.2,912.0 537.2,956.2 534.9,983.3 532.7,969.2 530.7,954.0 528.1,949.2 525.6,949.6 523.4,930.5 521.1,971.4 518.6,974.6 516.1,968.1 513.9,964.8 511.9,944.2 509.9,938.8 507.1,927.9 504.9,965.9 502.6,961.6 500.6,947.5 498.6,943.1 495.6,926.8 493.6,924.6 491.4,917.7 488.9,957.2 486.9,955.1 484.3,938.8 482.3,1070.3 480.1,938.8 477.8,899.2 475.6,908.3 473.1,953.5 470.6,947.5 468.1,946.4 464.3,934.4 461.8,932.2 459.3,936.6 457.3,980.1 455.1,964.8 452.6,938.8 450.1,937.7 447.6,921.4 444.8,1023.1 442.5,951.8 440.5,983.3 438.5,964.8 436.0,930.1 433.5,917.0 431.8,936.6 429.8,1100.7 427.3,964.8 424.8,1138.3 420.3,935.5 418.0,930.1 415.5,912.7 413.0,904.6 411.0,990.9 408.5,986.6 406.8,882.2 404.2,821.4 397.5,931.2 395.0,936.6 392.5,1001.8 388.0,930.1 385.5,921.4 383.5,923.5 381.0,950.7 378.7,902.9 374.2,927.9 372.0,934.4 369.2,927.9 367.2,910.9 364.9,920.3 362.4,919.2 360.4,964.8 356.2,974.6 352.4,946.4 349.9,940.9 346.7,937.7 344.7,972.5 342.4,971.4 340.4,943.1 337.9,925.1 335.4,939.8 332.4,922.9 328.4,1015.9 325.9,1013.8 323.9,977.9 321.6,1001.8 319.1,942.7 316.6,987.7 314.4,947.5 311.9,996.4 307.9,945.3 305.4,943.1 301.1,976.8 298.3,984.4 296.6,1017.0 294.1,1001.8 291.6,996.4 287.8,1001.8 284.3,1032.2 280.3,990.9 277.8,1119.6 270.8,948.5 264.0,1047.4 259.5,968.1 257.3,973.5 255.3,1001.8 252.8,1008.3 247.8,1095.3 241.5,1014.8 239.0,1010.5 235.7,1011.6 232.0,1086.6 227.7,1002.9 224.7,1000.7 218.2,1275.7 215.7,1114.8 212.7,1082.2 208.9,1074.6 206.2,1058.3 199.7,1144.2 197.7,1082.2 192.7,1059.4 183.4,1202.9 178.9,1125.7 176.4,1124.6 172.1,1073.5 167.6,1255.7 163.1,967.0 158.1,904.0 156.3,741.0 151.8,836.6 148.1,757.3 140.1,957.9 137.8,900.7 135.5,919.2 133.0,967.5 130.8,945.3 128.8,944.2 126.5,918.1 124.3,910.5 122.0,836.6 119.5,830.5 117.5,908.3 113.6,913.8" fill="#c5d8ef" stroke="#c5d8ef" stroke-width="2.4" stroke-linejoin="bevel"/>
<text x="148.5" y="178.9" font-size="29.3" font-weight="bold" style="fill:#d01846">Pandemic declared March 11, 2020</text>
<line x1="122.5" x2="122.5" y1="120.0" y2="1275.0" stroke="#808080" stroke-width="1.15"/><line x1="193.5" x2="193.5" y1="120.0" y2="1275.0" stroke="#808080" stroke-width="1.15"/><line x1="261.5" x2="261.5" y1="120.0" y2="1275.0" stroke="#808080" stroke-width="1.15"/><line x1="333.5" x2="333.5" y1="120.0" y2="1275.0" stroke="#808080" stroke-width="1.15"/><line x1="401.5" x2="401.5" y1="120.0" y2="1275.0" stroke="#808080" stroke-width="1.15"/><line x1="472.5" x2="472.5" y1="120.0" y2="1275.0" stroke="#808080" stroke-width="1.15"/><line x1="543.5" x2="543.5" y1="120.0" y2="1275.0" stroke="#808080" stroke-width="1.15"/><line x1="612.5" x2="612.5" y1="120.0" y2="1275.0" stroke="#808080" stroke-width="1.15"/><line x1="683.5" x2="683.5" y1="120.0" y2="1275.0" stroke="#808080" stroke-width="1.15"/><line x1="752.5" x2="752.5" y1="120.0" y2="1275.0" stroke="#808080" stroke-width="1.15"/><line x1="894.5" x2="894.5" y1="120.0" y2="1275.0" stroke="#808080" stroke-width="1.15"/><line x1="958.5" x2="958.5" y1="120.0" y2="1275.0" stroke="#808080" stroke-width="1.15"/><line x1="1029.5" x2="1029.5" y1="120.0" y2="1275.0" stroke="#808080" stroke-width="1.15"/><line x1="1098.5" x2="1098.5" y1="120.0" y2="1275.0" stroke="#808080" stroke-width="1.15"/><line x1="1169.5" x2="1169.5" y1="120.0" y2="1275.0" stroke="#808080" stroke-width="1.15"/><line x1="1238.5" x2="1238.5" y1="120.0" y2="1275.0" stroke="#808080" stroke-width="1.15"/><line x1="1309.5" x2="1309.5" y1="120.0" y2="1275.0" stroke="#808080" stroke-width="1.15"/><line x1="1380.5" x2="1380.5" y1="120.0" y2="1275.0" stroke="#808080" stroke-width="1.15"/><line x1="1448.5" x2="1448.5" y1="120.0" y2="1275.0" stroke="#808080" stroke-width="1.15"/><line x1="1520.5" x2="1520.5" y1="120.0" y2="1275.0" stroke="#808080" stroke-width="1.15"/><line x1="1588.5" x2="1588.5" y1="120.0" y2="1275.0" stroke="#808080" stroke-width="1.15"/><line x1="1730.5" x2="1730.5" y1="120.0" y2="1275.0" stroke="#808080" stroke-width="1.15"/><line x1="1794.5" x2="1794.5" y1="120.0" y2="1275.0" stroke="#808080" stroke-width="1.15"/><line x1="1866.5" x2="1866.5" y1="120.0" y2="1275.0" stroke="#808080" stroke-width="1.15"/><line x1="1934.5" x2="1934.5" y1="120.0" y2="1275.0" stroke="#808080" stroke-width="1.15"/><line x1="2005.5" x2="2005.5" y1="120.0" y2="1275.0" stroke="#808080" stroke-width="1.15"/><line x1="2074.5" x2="2074.5" y1="120.0" y2="1275.0" stroke="#808080" stroke-width="1.15"/><line x1="2145.5" x2="2145.5" y1="120.0" y2="1275.0" stroke="#808080" stroke-width="1.15"/><line x1="2216.5" x2="2216.5" y1="120.0" y2="1275.0" stroke="#808080" stroke-width="1.15"/><line x1="2285.5" x2="2285.5" y1="120.0" y2="1275.0" stroke="#808080" stroke-width="1.15"/><line x1="2356.5" x2="2356.5" y1="120.0" y2="1275.0" stroke="#808080" stroke-width="1.15"/><line x1="2425.5" x2="2425.5" y1="120.0" y2="1275.0" stroke="#808080" stroke-width="1.15"/><line x1="2567.5" x2="2567.5" y1="120.0" y2="1275.0" stroke="#808080" stroke-width="1.15"/><line x1="2631.5" x2="2631.5" y1="120.0" y2="1275.0" stroke="#808080" stroke-width="1.15"/><line x1="2702.5" x2="2702.5" y1="120.0" y2="1275.0" stroke="#808080" stroke-width="1.15"/><line x1="2771.5" x2="2771.5" y1="120.0" y2="1275.0" stroke="#808080" stroke-width="1.15"/><line x1="2842.5" x2="2842.5" y1="120.0" y2="1275.0" stroke="#808080" stroke-width="1.15"/><line x1="2910.5" x2="2910.5" y1="120.0" y2="1275.0" stroke="#808080" stroke-width="1.15"/><line x1="2981.5" x2="2981.5" y1="120.0" y2="1275.0" stroke="#808080" stroke-width="1.15"/><line x1="3053.5" x2="3053.5" y1="120.0" y2="1275.0" stroke="#808080" stroke-width="1.15"/><line x1="3121.5" x2="3121.5" y1="120.0" y2="1275.0" stroke="#808080" stroke-width="1.15"/><line x1="113.0" x2="3135.0" y1="1154.5" y2="1154.5" stroke="#808080" stroke-width="1.15"/><line x1="113.0" x2="3135.0" y1="1006.5" y2="1006.5" stroke="#808080" stroke-width="1.15"/><line x1="113.0" x2="3135.0" y1="859.5" y2="859.5" stroke="#808080" stroke-width="1.15"/><line x1="113.0" x2="3135.0" y1="712.5" y2="712.5" stroke="#808080" stroke-width="1.15"/><line x1="113.0" x2="3135.0" y1="564.5" y2="564.5" stroke="#808080" stroke-width="1.15"/><line x1="113.0" x2="3135.0" y1="417.5" y2="417.5" stroke="#808080" stroke-width="1.15"/><line x1="113.0" x2="3135.0" y1="269.5" y2="269.5" stroke="#808080" stroke-width="1.15"/><line x1="113.0" x2="3135.0" y1="122.5" y2="122.5" stroke="#808080" stroke-width="1.15"/>
<polyline points="113.6,811.4 117.5,805.1 119.5,715.6 122.0,722.6 124.2,807.6 126.5,816.4 128.8,846.4 130.8,847.6 133.0,873.1 135.5,817.6 137.8,796.4 140.0,862.1 148.0,631.4 151.8,722.6 156.2,612.6 158.0,800.1 163.0,872.6 167.5,1204.6 172.0,995.1 176.2,1053.8 178.8,1055.1 183.2,1143.8 192.5,978.8 197.5,1005.1 199.5,1076.3 206.0,977.6 208.8,996.3 212.5,1005.1 215.5,1042.6 218.0,1227.6 224.5,911.3 227.5,913.8 231.8,1010.1 235.5,923.8 238.8,922.6 241.2,927.6 247.5,1020.1 252.5,920.1 255.0,912.6 257.0,880.1 259.2,873.8 263.8,965.1 270.5,851.4 277.5,1048.1 280.0,900.1 284.0,947.6 287.5,912.6 291.2,906.3 293.8,912.6 296.2,930.1 298.0,892.6 300.8,883.8 305.0,845.1 307.5,847.6 311.5,906.3 314.0,850.1 316.2,896.3 318.8,844.6 321.2,912.6 323.5,885.1 325.5,926.3 328.0,928.8 332.0,821.9 335.0,841.4 337.5,824.4 340.0,845.1 342.0,877.6 344.2,878.8 346.2,838.9 349.5,842.6 352.0,848.9 355.8,881.3 360.0,870.1 362.0,817.6 364.5,818.9 366.8,808.1 368.8,827.6 371.5,835.1 373.8,827.6 378.2,798.9 380.5,853.9 383.0,822.6 385.0,820.1 387.5,830.1 392.0,912.6 394.5,837.6 397.0,831.4 403.8,705.1 406.2,775.1 408.0,895.1 410.5,900.1 412.5,800.9 415.0,810.1 417.5,830.1 419.8,836.4 424.2,1069.6 426.8,870.1 429.2,1026.3 431.2,837.6 433.0,815.1 435.5,830.1 438.0,870.1 440.0,891.3 442.0,855.1 444.2,937.1 447.0,820.1 449.5,838.9 452.0,840.1 454.5,870.1 456.8,887.6 458.8,837.6 461.2,832.6 463.8,835.1 467.5,848.9 470.0,850.1 472.5,857.1 475.0,805.1 477.2,794.6 479.5,840.1 481.8,991.3 483.8,840.1 486.2,858.9 488.2,861.3 490.8,815.9 493.0,823.9 495.0,826.4 498.0,845.1 500.0,850.1 502.0,866.3 504.2,871.3 506.5,827.6 509.2,840.1 511.2,846.4 513.2,870.1 515.5,873.8 518.0,881.3 520.5,877.6 522.8,830.6 525.0,852.6 527.5,852.1 530.0,857.6 532.0,875.1 534.2,891.3 536.5,860.1 538.5,809.4 540.8,832.6 542.5,808.9 545.0,813.9 547.5,810.1 550.0,855.1 552.5,827.6 554.8,775.1 556.8,873.1 558.8,819.6 561.2,850.1 563.8,870.1 566.5,899.6 568.8,850.1 570.8,812.1 573.0,833.9 575.5,856.4 577.5,843.9 580.0,871.3 582.5,855.1 585.0,827.6 587.0,802.6 589.2,842.6 592.5,843.9 596.2,847.6 598.8,858.1 602.0,855.1 603.0,813.1 605.2,867.6 607.5,825.1 610.0,805.1 612.0,810.1 614.5,852.6 616.8,842.6 618.8,805.6 621.2,842.6 623.8,846.4 625.8,870.1 628.8,876.3 630.8,878.8 632.8,812.1 635.0,895.1 637.2,1012.6 639.5,862.6 644.2,1006.3 646.2,902.6 651.0,819.6 653.5,915.6 658.0,875.1 660.0,887.1 662.5,883.8 665.0,867.6 667.2,798.1 669.5,857.1 672.0,836.4 674.0,822.6 676.0,868.1 678.0,838.9 680.5,843.9 683.0,876.3 685.5,875.6 687.5,872.1 690.0,970.1 692.5,928.8 695.0,942.6 699.5,865.6 702.0,910.1 706.2,850.6 708.8,916.3 710.8,910.1 715.2,825.6 717.5,870.1 720.0,878.8 722.5,875.1 725.5,877.6 727.5,886.3 729.5,892.6 731.5,792.6 738.0,593.1 740.0,885.1 742.5,836.4 745.0,920.1 749.5,784.6 752.0,895.1 754.5,957.1 756.5,907.6 758.8,940.1 763.5,862.6 765.8,907.6 768.0,905.1 770.0,890.8 772.5,900.1 775.0,932.6 779.5,843.9 781.5,864.6 784.0,804.4 786.2,860.1 788.5,911.3 793.8,795.1 800.0,677.6 802.5,527.6 808.8,1117.6 813.8,910.1 820.0,635.6 823.2,850.1 829.5,720.1 833.8,831.4 836.2,815.1 838.8,832.6 843.2,748.9 845.8,776.4 848.0,780.1 850.0,803.9 852.5,810.1 855.0,818.4 859.8,752.1 863.8,820.1 868.8,862.6 875.5,767.1 878.2,820.1 880.5,888.8 882.5,830.1 884.5,837.6 886.5,850.1 889.0,747.1 891.2,752.6 893.8,917.6 896.2,923.8 898.5,825.1 900.5,876.3 902.5,860.1 905.5,764.6 909.5,865.1 912.5,840.1 914.5,813.1 916.5,848.9 919.0,846.4 921.2,757.1 923.8,752.1 925.8,935.1 927.5,917.6 930.0,901.3 932.8,990.1 937.5,830.1 940.0,783.9 942.0,863.8 944.2,851.4 946.2,825.1 948.8,875.1 951.0,877.6 953.2,787.6 955.5,758.1 958.0,825.1 960.0,875.1 962.5,813.9 964.5,847.6 967.0,891.3 971.8,759.6 973.8,841.9 977.5,838.9 980.0,833.9 983.5,825.1 987.5,712.1 990.0,761.4 992.0,760.1 994.5,693.4 997.0,756.4 999.5,767.6 1004.0,625.6 1006.5,740.1 1009.0,755.1 1011.2,760.1 1015.5,825.6 1017.5,740.1 1020.0,722.6 1022.0,783.9 1024.5,785.1 1028.8,707.6 1031.2,700.1 1033.8,666.4 1036.0,1007.1 1038.0,745.1 1040.5,750.1 1042.5,745.1 1047.5,818.4 1052.5,687.1 1054.5,762.6 1057.0,770.1 1059.2,761.4 1063.8,825.9 1068.0,688.9 1070.5,765.1 1073.0,770.1 1075.5,785.1 1080.0,820.9 1084.2,710.1 1087.0,776.4 1089.2,787.6 1091.8,777.6 1093.8,792.6 1095.5,778.9 1098.0,777.6 1100.5,707.6 1103.0,760.1 1105.5,770.1 1107.5,771.4 1109.5,791.4 1111.8,780.1 1114.2,678.9 1116.2,678.9 1118.2,834.6 1120.8,827.6 1123.0,846.4 1125.5,828.9 1128.0,837.6 1132.2,732.6 1134.5,808.9 1137.0,805.1 1139.0,786.4 1141.2,806.4 1144.0,848.9 1148.5,716.4 1151.0,893.8 1153.0,812.6 1157.5,756.4 1159.5,780.1 1161.8,788.9 1164.5,718.9 1166.5,782.6 1168.8,775.1 1171.2,762.6 1173.2,656.4 1175.8,886.3 1180.0,684.6 1182.5,737.6 1185.0,737.1 1187.0,745.1 1190.5,766.4 1192.2,808.9 1194.5,795.1 1196.5,718.4 1199.0,797.6 1201.0,735.6 1203.0,740.1 1205.0,748.9 1207.5,765.1 1210.0,750.1 1212.5,663.9 1214.5,846.4 1219.2,770.1 1221.5,782.1 1224.0,813.9 1226.5,814.6 1228.5,734.6 1230.5,762.6 1233.0,747.6 1237.5,682.6 1240.0,720.1 1242.0,730.1 1244.5,590.9 1247.0,834.6 1249.5,798.9 1253.8,788.9 1255.8,818.9 1258.2,800.1 1260.5,746.4 1262.5,771.4 1265.0,769.4 1267.5,765.1 1269.5,750.1 1272.0,803.1 1274.2,792.6 1276.5,733.4 1278.5,785.1 1281.0,761.4 1283.2,765.1 1286.0,812.6 1288.0,810.1 1290.0,807.1 1292.5,735.1 1295.5,775.1 1297.5,777.6 1299.5,780.1 1302.0,792.6 1304.2,795.1 1306.2,791.4 1309.0,693.4 1311.2,727.6 1313.8,727.6 1315.5,730.1 1318.0,780.1 1320.0,796.4 1322.0,802.6 1325.0,688.9 1327.0,748.1 1329.0,750.1 1332.0,791.4 1333.8,792.6 1336.2,812.6 1340.8,674.6 1343.0,750.1 1345.5,760.1 1348.0,763.1 1350.5,782.1 1352.5,798.9 1355.0,801.9 1357.0,768.1 1359.2,826.4 1361.5,800.6 1363.8,846.4 1366.2,825.1 1368.2,818.9 1373.0,714.6 1375.0,778.9 1379.2,718.9 1381.2,731.4 1383.8,711.4 1385.8,730.1 1388.8,622.1 1391.2,775.1 1393.5,745.1 1395.5,776.4 1398.0,785.1 1400.2,971.3 1404.5,693.9 1407.0,755.1 1409.5,750.1 1411.8,748.9 1414.2,681.4 1416.2,852.6 1421.0,658.4 1423.2,760.1 1425.5,775.1 1427.5,770.1 1430.0,547.6 1432.5,860.6 1437.2,700.1 1439.5,799.6 1442.0,780.1 1444.0,777.6 1446.5,752.6 1448.8,745.1 1450.8,742.6 1453.0,680.9 1455.5,775.1 1457.8,833.4 1462.5,788.9 1465.0,786.4 1469.5,700.6 1471.2,946.3 1473.8,785.1 1476.0,810.1 1478.5,780.1 1480.8,793.9 1485.2,672.6 1487.5,740.1 1490.0,761.4 1491.8,760.1 1494.0,681.4 1496.8,853.1 1501.2,717.6 1503.2,755.1 1506.2,756.4 1510.0,811.4 1512.5,800.1 1517.0,711.4 1519.5,817.6 1521.8,837.1 1524.0,797.6 1526.2,830.1 1528.8,831.4 1533.8,732.1 1535.5,818.9 1538.0,828.9 1540.5,835.1 1542.5,782.1 1545.0,842.6 1549.5,718.1 1551.5,992.6 1556.2,826.4 1558.8,841.4 1561.2,832.6 1572.0,465.9 1574.5,876.3 1577.0,712.1 1579.2,820.1 1583.2,751.4 1585.5,795.1 1588.0,790.1 1590.5,958.1 1597.5,781.4 1599.5,853.1 1602.5,846.4 1604.5,853.9 1608.8,850.1 1610.0,790.1 1613.2,776.4 1615.8,815.1 1618.0,795.1 1620.5,743.9 1622.5,733.9 1625.0,783.9 1627.5,687.6 1630.0,627.6 1633.8,590.1 1636.5,530.1 1638.2,386.4 1641.2,760.1 1645.5,963.1 1648.8,880.1 1651.2,845.1 1653.8,772.6 1655.5,766.4 1659.8,795.1 1663.8,712.1 1665.5,732.6 1668.8,728.1 1670.8,947.6 1677.5,694.6 1680.0,720.1 1682.5,750.1 1685.0,851.4 1686.5,740.1 1688.8,772.6 1690.8,739.6 1693.0,742.6 1696.0,808.9 1700.5,740.6 1702.5,770.1 1705.0,777.6 1708.0,727.6 1710.0,716.4 1712.0,792.6 1714.5,763.1 1716.2,784.6 1719.5,776.4 1721.8,746.4 1723.8,804.6 1725.8,720.1 1728.0,719.6 1730.2,714.6 1736.2,895.1 1742.0,691.4 1746.5,973.1 1748.8,812.6 1753.0,770.1 1755.5,635.1 1758.0,628.9 1760.0,650.1 1762.5,862.6 1765.0,793.9 1767.0,856.4 1770.0,830.1 1773.8,673.1 1776.2,983.8 1778.0,825.6 1781.2,823.9 1783.2,820.1 1785.8,819.6 1787.5,690.1 1790.5,645.9 1792.5,745.1 1796.2,805.1 1798.8,812.6 1801.2,820.1 1803.0,805.1 1805.5,681.4 1808.0,820.1 1811.2,812.1 1813.2,817.6 1815.5,835.6 1817.5,807.1 1820.0,805.1 1822.0,664.6 1824.2,745.1 1826.2,766.4 1828.8,755.1 1831.2,825.1 1833.8,820.1 1838.0,654.6 1840.5,806.4 1843.8,812.6 1847.0,822.6 1849.2,805.1 1854.2,672.1 1856.5,829.6 1858.8,798.1 1861.2,788.1 1863.2,803.9 1870.0,622.1 1873.0,737.6 1875.0,765.1 1877.0,767.6 1879.5,832.6 1886.2,617.1 1888.8,757.6 1891.2,737.1 1893.8,750.1 1897.5,716.4 1900.0,630.6 1902.2,1028.8 1905.0,758.9 1907.0,968.1 1908.8,808.9 1911.2,817.6 1913.8,807.6 1918.2,672.1 1921.2,742.6 1924.2,763.9 1927.5,794.4 1934.5,682.6 1936.2,808.9 1939.2,790.1 1941.2,804.4 1943.8,800.1 1946.2,801.4 1948.0,657.6 1950.5,637.1 1952.5,820.1 1955.0,811.4 1957.5,832.6 1961.8,837.6 1966.8,693.1 1968.8,806.4 1971.2,811.4 1973.2,787.6 1975.8,827.6 1978.0,827.1 1982.5,671.9 1985.0,812.6 1987.0,816.4 1990.0,802.6 1993.8,783.9 1999.2,652.1 2000.8,742.6 2003.0,735.6 2005.5,752.6 2007.5,785.1 2010.0,763.9 2012.0,770.1 2014.5,690.1 2016.5,783.9 2018.8,752.6 2021.2,792.6 2026.2,810.1 2030.5,686.4 2033.0,783.9 2035.5,785.1 2037.5,769.6 2039.5,793.9 2042.0,773.9 2046.8,657.6 2050.0,760.1 2054.5,807.6 2056.2,800.1 2058.0,817.6 2063.0,693.9 2065.0,790.1 2067.0,778.9 2070.0,777.1 2071.5,968.8 2073.2,672.6 2075.0,721.4 2077.0,721.4 2078.5,619.6 2082.5,750.1 2084.5,773.9 2086.2,774.6 2090.5,805.6 2094.5,701.4 2098.0,790.1 2102.5,800.1 2108.8,810.1 2111.2,698.4 2113.8,795.1 2117.0,791.4 2120.0,795.1 2122.5,807.1 2127.5,683.9 2130.5,803.9 2133.8,801.4 2136.2,804.6 2138.8,792.6 2143.0,675.6 2147.5,760.6 2149.5,693.1 2154.5,774.6 2158.8,629.6 2161.2,717.6 2165.0,770.1 2167.0,755.1 2170.5,795.6 2175.5,643.4 2177.5,765.1 2181.2,783.9 2184.5,798.1 2191.2,652.6 2192.5,790.1 2196.2,798.9 2198.0,785.6 2200.5,798.1 2202.5,786.4 2207.0,673.1 2209.2,805.6 2211.8,770.1 2214.2,771.4 2216.2,730.1 2219.5,717.6 2221.2,705.1 2223.0,583.9 2225.0,741.4 2228.0,735.9 2230.5,752.6 2234.5,816.4 2239.2,667.6 2241.2,760.1 2243.2,797.6 2245.5,780.1 2248.0,780.1 2250.0,795.1 2252.5,1023.8 2255.0,685.1 2257.0,788.9 2259.2,780.1 2261.8,751.4 2264.5,765.1 2266.2,771.4 2268.2,760.1 2271.2,654.6 2273.8,777.6 2276.0,776.4 2278.0,806.4 2280.0,805.1 2282.5,817.6 2287.0,663.1 2288.8,725.1 2291.2,775.1 2293.8,797.1 2295.8,762.6 2298.2,771.4 2303.2,645.1 2305.8,760.1 2307.5,792.6 2310.0,765.1 2312.0,798.9 2314.5,790.1 2319.2,648.1 2321.2,747.6 2323.8,805.1 2328.0,780.1 2330.8,773.9 2335.0,665.1 2337.0,755.1 2338.8,780.1 2340.5,786.4 2342.0,767.6 2344.5,786.4 2347.5,740.1 2351.5,660.1 2353.8,782.6 2356.2,840.1 2358.2,847.6 2360.5,841.4 2362.5,859.6 2367.5,730.1 2370.0,830.1 2372.5,827.6 2376.2,792.6 2378.0,805.1 2380.0,780.1 2383.5,737.1 2385.5,813.9 2388.0,805.6 2391.2,798.9 2395.0,798.1 2398.8,647.6 2401.2,653.9 2406.2,425.7 2408.2,778.9 2410.8,626.4 2413.0,794.4 2415.0,735.1 2417.5,732.1 2420.0,828.9 2422.0,840.1 2424.5,877.6 2427.0,866.3 2431.5,749.4 2433.8,825.1 2436.2,848.1 2440.0,841.4 2443.0,843.1 2447.5,698.9 2450.0,772.6 2452.5,785.1 2454.5,749.6 2456.8,775.1 2459.2,777.6 2463.2,630.1 2465.8,622.6 2467.8,571.4 2470.5,738.9 2472.5,510.1 2475.2,715.1 2477.8,788.9 2480.0,562.6 2481.8,953.8 2485.8,835.1 2488.8,841.4 2491.2,800.1 2493.8,745.1 2495.2,740.1 2495.3,-2379.5 2495.3,820.1 2498.0,817.6 2500.5,697.6 2503.8,730.1 2507.0,770.1 2511.2,628.1 2513.8,742.6 2516.2,742.6 2518.2,748.1 2520.8,721.4 2523.0,742.1 2527.5,598.9 2530.0,715.1 2533.8,750.1 2537.0,767.1 2541.2,663.9 2544.0,650.1 2545.8,772.6 2548.0,741.4 2550.5,813.9 2553.0,776.4 2557.0,677.6 2559.5,665.1 2562.5,750.1 2566.2,780.1 2568.8,798.9 2571.2,780.1 2576.0,652.1 2579.0,790.1 2582.5,787.6 2585.5,780.1 2589.5,630.1 2592.0,634.6 2593.8,700.1 2596.2,580.9 2598.8,817.6 2601.2,816.4 2605.0,712.6 2608.0,678.1 2611.2,745.1 2614.5,780.1 2617.0,733.9 2619.5,742.6 2623.8,596.4 2626.2,752.6 2630.0,760.1 2632.5,797.1 2635.5,792.6 2640.2,653.9 2642.5,777.6 2644.5,805.1 2647.0,783.9 2649.0,960.6 2652.5,800.1 2656.2,686.9 2660.5,798.9 2663.0,741.9 2665.0,795.1 2667.5,806.4 2672.0,670.1 2674.5,761.4 2677.0,807.6 2678.8,806.4 2682.0,840.1 2685.0,795.1 2688.0,681.4 2690.0,1070.1 2692.5,1108.8 2696.2,792.6 2699.5,787.6 2704.2,612.6 2706.2,775.1 2708.8,746.4 2711.2,776.4 2713.0,1023.8 2717.5,657.6 2720.0,974.6 2721.2,748.9 2723.8,752.6 2727.5,786.4 2729.5,788.1 2732.0,770.1 2736.8,676.4 2738.2,806.4 2741.2,796.4 2743.8,795.1 2748.0,745.1 2752.5,691.4 2754.5,787.6 2757.5,791.4 2760.0,792.6 2764.5,792.6 2768.0,650.1 2770.0,760.1 2773.0,840.1 2775.0,1069.6 2777.2,855.1 2780.0,1067.6 2784.2,690.9 2786.2,795.1 2788.8,792.6 2790.8,772.1 2792.5,780.1 2795.0,775.6 2798.0,563.1 2802.5,797.6 2805.0,788.9 2807.5,834.6 2810.0,825.1 2812.5,823.1 2817.0,681.9 2818.8,796.4 2821.2,800.1 2823.2,790.1 2825.2,848.9 2828.0,775.1 2832.5,655.9 2834.5,740.1 2837.0,733.9 2839.5,775.1 2841.8,749.4 2844.2,787.6 2846.2,783.9 2848.8,693.1 2852.5,785.1 2855.8,786.4 2857.5,973.8 2860.0,815.1 2863.0,795.1 2864.5,707.6 2867.0,771.4 2869.2,749.6 2871.2,812.6 2873.2,765.1 2876.2,768.9 2878.8,737.6 2880.8,665.9 2883.0,742.6 2885.0,798.9 2887.5,792.6 2890.0,807.6 2892.0,819.6 2894.5,806.4 2897.0,723.4 2899.2,780.1 2902.0,780.1 2906.2,753.9 2908.0,896.3 2911.2,707.6 2915.0,552.6 2917.5,758.9 2920.5,762.1 2922.5,766.4 2925.0,798.9 2926.8,800.1 2928.8,903.8 2931.2,750.6 2933.8,765.1 2936.2,776.4 2938.8,786.4 2940.2,842.6 2945.0,725.1 2947.0,757.6 2949.5,758.9 2953.8,785.1 2956.2,768.9 2958.8,785.1 2961.2,693.9 2963.0,767.6 2965.5,760.6 2968.0,792.6 2970.0,795.1 2972.5,800.1 2976.8,700.9 2979.2,700.9 2982.0,685.6 2983.8,742.6 2986.2,746.4 2988.2,792.6 2993.0,658.9 2995.0,700.1 2997.5,747.6 3000.0,770.1 3002.5,775.1 3004.5,793.4 3009.2,630.1 3011.2,755.1 3013.8,733.9 3016.2,788.9 3018.0,790.6 3020.5,785.1 3025.0,697.1 3027.5,775.1 3030.0,780.1 3032.0,798.1 3033.8,786.4 3036.2,810.1 3038.8,1078.8 3041.2,687.6 3043.8,792.6 3046.2,796.9 3048.8,792.6 3052.5,702.1 3054.5,716.4 3057.0,593.1 3059.5,1035.8 3062.5,792.6 3064.2,772.6 3066.2,795.1 3068.2,1045.1 3073.2,682.1 3075.0,767.6 3077.5,781.4 3080.0,786.4 3082.5,797.6 3084.0,1047.6 3086.8,1065.1 3089.2,708.9 3091.2,777.6 3093.8,778.9 3096.2,780.1 3098.0,776.4 3101.2,790.1 3102.5,1038.8 3105.0,697.6 3108.0,752.6 3110.0,753.9 3112.5,767.6 3115.0,773.9 3116.5,907.6 3121.5,638.9 3123.8,743.9 3126.2,748.9 3128.2,800.1 3130.0,741.4 3134.6,737.1" fill="none" stroke="#003a70" stroke-width="4.1" stroke-linejoin="round" stroke-linecap="round"/>
<line x1="823" x2="823" y1="120.0" y2="1275.0" stroke="#808080" stroke-width="4"/><line x1="1659" x2="1659" y1="120.0" y2="1275.0" stroke="#808080" stroke-width="4"/><line x1="2496" x2="2496" y1="120.0" y2="1275.0" stroke="#808080" stroke-width="4"/>
<line x1="145" x2="145" y1="120.0" y2="1275.0" stroke="#d01846" stroke-width="6"/>
</g>
<line x1="113.0" x2="113.0" y1="119.0" y2="1276.1" stroke="#111" stroke-width="2.2"/>
<line x1="111.9" x2="3136.1" y1="1275.0" y2="1275.0" stroke="#111" stroke-width="2.2"/>
<line x1="122" x2="122" y1="1275.0" y2="1282.0" stroke="#111" stroke-width="2"/><text x="121.7" y="1312.0" font-size="28.9" text-anchor="middle">3/1</text><text x="121.7" y="1344.1" font-size="28.9" text-anchor="middle">2020</text><line x1="193" x2="193" y1="1275.0" y2="1282.0" stroke="#111" stroke-width="2"/><text x="192.7" y="1312.0" font-size="28.9" text-anchor="middle">4/1</text><line x1="261" x2="261" y1="1275.0" y2="1282.0" stroke="#111" stroke-width="2"/><text x="261.5" y="1312.0" font-size="28.9" text-anchor="middle">5/1</text><line x1="333" x2="333" y1="1275.0" y2="1282.0" stroke="#111" stroke-width="2"/><text x="332.5" y="1312.0" font-size="28.9" text-anchor="middle">6/1</text><line x1="401" x2="401" y1="1275.0" y2="1282.0" stroke="#111" stroke-width="2"/><text x="401.3" y="1312.0" font-size="28.9" text-anchor="middle">7/1</text><line x1="472" x2="472" y1="1275.0" y2="1282.0" stroke="#111" stroke-width="2"/><text x="472.3" y="1312.0" font-size="28.9" text-anchor="middle">8/1</text><line x1="543" x2="543" y1="1275.0" y2="1282.0" stroke="#111" stroke-width="2"/><text x="543.3" y="1312.0" font-size="28.9" text-anchor="middle">9/1</text><line x1="612" x2="612" y1="1275.0" y2="1282.0" stroke="#111" stroke-width="2"/><text x="612.1" y="1312.0" font-size="28.9" text-anchor="middle">10/1</text><line x1="683" x2="683" y1="1275.0" y2="1282.0" stroke="#111" stroke-width="2"/><text x="683.1" y="1312.0" font-size="28.9" text-anchor="middle">11/1</text><line x1="752" x2="752" y1="1275.0" y2="1282.0" stroke="#111" stroke-width="2"/><text x="751.9" y="1312.0" font-size="28.9" text-anchor="middle">12/1</text><line x1="823" x2="823" y1="1275.0" y2="1282.0" stroke="#111" stroke-width="2"/><text x="822.9" y="1312.0" font-size="28.9" text-anchor="middle">1/1</text><text x="822.9" y="1344.1" font-size="28.9" text-anchor="middle">2021</text><line x1="894" x2="894" y1="1275.0" y2="1282.0" stroke="#111" stroke-width="2"/><text x="893.9" y="1312.0" font-size="28.9" text-anchor="middle">2/1</text><line x1="958" x2="958" y1="1275.0" y2="1282.0" stroke="#111" stroke-width="2"/><text x="958.1" y="1312.0" font-size="28.9" text-anchor="middle">3/1</text><line x1="1029" x2="1029" y1="1275.0" y2="1282.0" stroke="#111" stroke-width="2"/><text x="1029.1" y="1312.0" font-size="28.9" text-anchor="middle">4/1</text><line x1="1098" x2="1098" y1="1275.0" y2="1282.0" stroke="#111" stroke-width="2"/><text x="1097.9" y="1312.0" font-size="28.9" text-anchor="middle">5/1</text><line x1="1169" x2="1169" y1="1275.0" y2="1282.0" stroke="#111" stroke-width="2"/><text x="1168.9" y="1312.0" font-size="28.9" text-anchor="middle">6/1</text><line x1="1238" x2="1238" y1="1275.0" y2="1282.0" stroke="#111" stroke-width="2"/><text x="1237.7" y="1312.0" font-size="28.9" text-anchor="middle">7/1</text><line x1="1309" x2="1309" y1="1275.0" y2="1282.0" stroke="#111" stroke-width="2"/><text x="1308.7" y="1312.0" font-size="28.9" text-anchor="middle">8/1</text><line x1="1380" x2="1380" y1="1275.0" y2="1282.0" stroke="#111" stroke-width="2"/><text x="1379.7" y="1312.0" font-size="28.9" text-anchor="middle">9/1</text><line x1="1448" x2="1448" y1="1275.0" y2="1282.0" stroke="#111" stroke-width="2"/><text x="1448.5" y="1312.0" font-size="28.9" text-anchor="middle">10/1</text><line x1="1520" x2="1520" y1="1275.0" y2="1282.0" stroke="#111" stroke-width="2"/><text x="1519.5" y="1312.0" font-size="28.9" text-anchor="middle">11/1</text><line x1="1588" x2="1588" y1="1275.0" y2="1282.0" stroke="#111" stroke-width="2"/><text x="1588.3" y="1312.0" font-size="28.9" text-anchor="middle">12/1</text><line x1="1659" x2="1659" y1="1275.0" y2="1282.0" stroke="#111" stroke-width="2"/><text x="1659.3" y="1312.0" font-size="28.9" text-anchor="middle">1/1</text><text x="1659.3" y="1344.1" font-size="28.9" text-anchor="middle">2022</text><line x1="1730" x2="1730" y1="1275.0" y2="1282.0" stroke="#111" stroke-width="2"/><text x="1730.3" y="1312.0" font-size="28.9" text-anchor="middle">2/1</text><line x1="1794" x2="1794" y1="1275.0" y2="1282.0" stroke="#111" stroke-width="2"/><text x="1794.5" y="1312.0" font-size="28.9" text-anchor="middle">3/1</text><line x1="1866" x2="1866" y1="1275.0" y2="1282.0" stroke="#111" stroke-width="2"/><text x="1865.5" y="1312.0" font-size="28.9" text-anchor="middle">4/1</text><line x1="1934" x2="1934" y1="1275.0" y2="1282.0" stroke="#111" stroke-width="2"/><text x="1934.3" y="1312.0" font-size="28.9" text-anchor="middle">5/1</text><line x1="2005" x2="2005" y1="1275.0" y2="1282.0" stroke="#111" stroke-width="2"/><text x="2005.3" y="1312.0" font-size="28.9" text-anchor="middle">6/1</text><line x1="2074" x2="2074" y1="1275.0" y2="1282.0" stroke="#111" stroke-width="2"/><text x="2074.1" y="1312.0" font-size="28.9" text-anchor="middle">7/1</text><line x1="2145" x2="2145" y1="1275.0" y2="1282.0" stroke="#111" stroke-width="2"/><text x="2145.1" y="1312.0" font-size="28.9" text-anchor="middle">8/1</text><line x1="2216" x2="2216" y1="1275.0" y2="1282.0" stroke="#111" stroke-width="2"/><text x="2216.1" y="1312.0" font-size="28.9" text-anchor="middle">9/1</text><line x1="2285" x2="2285" y1="1275.0" y2="1282.0" stroke="#111" stroke-width="2"/><text x="2284.9" y="1312.0" font-size="28.9" text-anchor="middle">10/1</text><line x1="2356" x2="2356" y1="1275.0" y2="1282.0" stroke="#111" stroke-width="2"/><text x="2355.9" y="1312.0" font-size="28.9" text-anchor="middle">11/1</text><line x1="2425" x2="2425" y1="1275.0" y2="1282.0" stroke="#111" stroke-width="2"/><text x="2424.7" y="1312.0" font-size="28.9" text-anchor="middle">12/1</text><line x1="2496" x2="2496" y1="1275.0" y2="1282.0" stroke="#111" stroke-width="2"/><text x="2495.7" y="1312.0" font-size="28.9" text-anchor="middle">1/1</text><text x="2495.7" y="1344.1" font-size="28.9" text-anchor="middle">2023</text><line x1="2567" x2="2567" y1="1275.0" y2="1282.0" stroke="#111" stroke-width="2"/><text x="2566.7" y="1312.0" font-size="28.9" text-anchor="middle">2/1</text><line x1="2631" x2="2631" y1="1275.0" y2="1282.0" stroke="#111" stroke-width="2"/><text x="2630.9" y="1312.0" font-size="28.9" text-anchor="middle">3/1</text><line x1="2702" x2="2702" y1="1275.0" y2="1282.0" stroke="#111" stroke-width="2"/><text x="2701.9" y="1312.0" font-size="28.9" text-anchor="middle">4/1</text><line x1="2771" x2="2771" y1="1275.0" y2="1282.0" stroke="#111" stroke-width="2"/><text x="2770.7" y="1312.0" font-size="28.9" text-anchor="middle">5/1</text><line x1="2842" x2="2842" y1="1275.0" y2="1282.0" stroke="#111" stroke-width="2"/><text x="2841.7" y="1312.0" font-size="28.9" text-anchor="middle">6/1</text><line x1="2910" x2="2910" y1="1275.0" y2="1282.0" stroke="#111" stroke-width="2"/><text x="2910.5" y="1312.0" font-size="28.9" text-anchor="middle">7/1</text><line x1="2981" x2="2981" y1="1275.0" y2="1282.0" stroke="#111" stroke-width="2"/><text x="2981.5" y="1312.0" font-size="28.9" text-anchor="middle">8/1</text><line x1="3053" x2="3053" y1="1275.0" y2="1282.0" stroke="#111" stroke-width="2"/><text x="3052.5" y="1312.0" font-size="28.9" text-anchor="middle">9/1</text><line x1="3121" x2="3121" y1="1275.0" y2="1282.0" stroke="#111" stroke-width="2"/><text x="3121.3" y="1312.0" font-size="28.9" text-anchor="middle">10/1</text><line x1="106.0" x2="113.0" y1="1154" y2="1154" stroke="#111" stroke-width="2"/><text x="98.2" y="1164.9" font-size="28.9" text-anchor="end">−40</text><line x1="106.0" x2="113.0" y1="1007" y2="1007" stroke="#111" stroke-width="2"/><text x="98.2" y="1017.5" font-size="28.9" text-anchor="end">−20</text><line x1="106.0" x2="113.0" y1="860" y2="860" stroke="#111" stroke-width="2"/><text x="98.2" y="870.1" font-size="28.9" text-anchor="end">0</text><line x1="106.0" x2="113.0" y1="712" y2="712" stroke="#111" stroke-width="2"/><text x="98.2" y="722.7" font-size="28.9" text-anchor="end">20</text><line x1="106.0" x2="113.0" y1="565" y2="565" stroke="#111" stroke-width="2"/><text x="98.2" y="575.3" font-size="28.9" text-anchor="end">40</text><line x1="106.0" x2="113.0" y1="417" y2="417" stroke="#111" stroke-width="2"/><text x="98.2" y="427.9" font-size="28.9" text-anchor="end">60</text><line x1="106.0" x2="113.0" y1="270" y2="270" stroke="#111" stroke-width="2"/><text x="98.2" y="280.5" font-size="28.9" text-anchor="end">80</text><line x1="106.0" x2="113.0" y1="122" y2="122" stroke="#111" stroke-width="2"/><text x="98.2" y="133.1" font-size="28.9" text-anchor="end">100</text>
<text x="1574.9" y="53.3" font-size="50.33" text-anchor="middle" style="fill:#0076c6">Spending on Retail and Food Service (Excluding Nonstore Retailers)</text>
<text x="1624" y="107.0" font-size="33.6" text-anchor="middle">An Event Study Based on Payment Card Transactions</text>
<text x="14.5" y="1381.9" font-size="25.185">Note: Chart shows the difference from the typical level of spending without COVID-19-related changes in the economy. The typical level corresponds to a value of 0.</text>
<text x="15.6" y="1410.2" font-size="25.185">The shaded area represents 95 percent confidence interval bands.</text>
<text x="14.5" y="1454.7" font-size="29.33">U.S. Bureau of Economic Analysis</text>
</svg></body></html>
